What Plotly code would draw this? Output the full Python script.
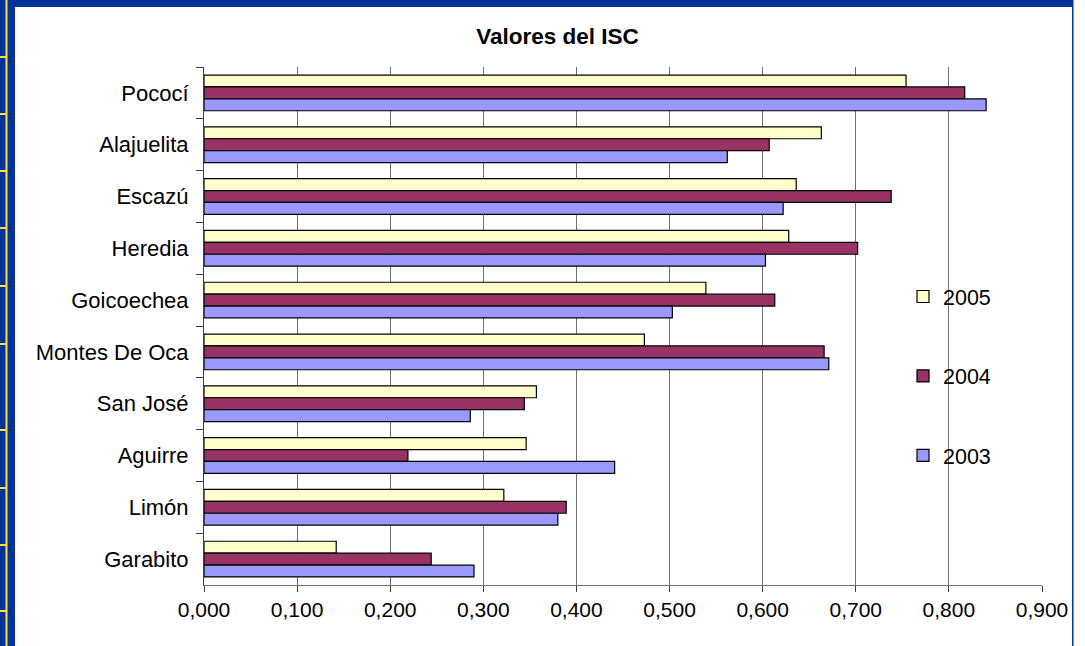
import plotly.graph_objects as go

categories = ["Pococí", "Alajuelita", "Escazú", "Heredia", "Goicoechea",
              "Montes De Oca", "San José", "Aguirre", "Limón", "Garabito"]
series_names = ["2005", "2004", "2003"]
values_2005 = [0.754, 0.663, 0.636, 0.628, 0.539, 0.473, 0.357, 0.346, 0.322, 0.142]
values_2004 = [0.817, 0.607, 0.738, 0.702, 0.613, 0.666, 0.344, 0.219, 0.389, 0.244]
values_2003 = [0.840, 0.562, 0.622, 0.603, 0.503, 0.671, 0.286, 0.441, 0.380, 0.290]
x_ticks = [0.0, 0.1, 0.2, 0.3, 0.4, 0.5, 0.6, 0.7, 0.8, 0.9]
colors = ["#FFFFCC", "#993366", "#9999FF"]

W, H = 1085, 646
L, R, T, B = 204, 43, 67, 61
PW, PH = W - L - R, H - T - B

def px(xp):
    return (xp - L) / PW

def py(yp):
    return (H - B - yp) / PH

FONT = "Arial, Liberation Sans, sans-serif"

fig = go.Figure()
for name, vals, col in zip(series_names, [values_2005, values_2004, values_2003], colors):
    fig.add_trace(go.Bar(
        y=categories, x=vals, name=name, orientation="h",
        marker=dict(color=col, line=dict(color="#000000", width=1.2)),
        legendgroup=name,
    ))

shapes = []
BLUE = "#003399"
YEL = "#FFE040"
shapes.append(dict(type="rect", xref="paper", yref="paper", x0=px(0), x1=px(15), y0=py(H), y1=py(0),
                   fillcolor=BLUE, line=dict(width=0), layer="above"))
shapes.append(dict(type="rect", xref="paper", yref="paper", x0=px(0), x1=px(1073), y0=py(7), y1=py(0),
                   fillcolor=BLUE, line=dict(width=0), layer="above"))
shapes.append(dict(type="rect", xref="paper", yref="paper", x0=px(1072), x1=px(1073.5), y0=py(H), y1=py(0),
                   fillcolor=BLUE, line=dict(width=0), layer="above"))
shapes.append(dict(type="rect", xref="paper", yref="paper", x0=px(5.5), x1=px(7.5), y0=py(H), y1=py(0),
                   fillcolor=YEL, line=dict(width=0), layer="above"))
for yy in [57, 114, 171, 228, 286, 344, 430, 488, 545, 611]:
    shapes.append(dict(type="rect", xref="paper", yref="paper", x0=px(0), x1=px(6), y0=py(yy + 1), y1=py(yy - 1),
                       fillcolor=YEL, line=dict(width=0), layer="above"))

fig.update_layout(
    width=W, height=H,
    margin=dict(l=L, r=R, t=T, b=B, pad=0),
    paper_bgcolor="#FFFFFF", plot_bgcolor="#FFFFFF",
    barmode="group", bargap=0.31, bargroupgap=0,
    separators=",.",
    font=dict(family=FONT, size=21.5, color="#000000"),
    title=dict(text="<b>Valores del ISC</b>", x=px(557.5), xref="paper", xanchor="center",
               y=1 - 36 / H, yref="container", yanchor="middle",
               font=dict(family=FONT, size=22.5, color="#000000")),
    xaxis=dict(range=[0, 0.9], tickvals=x_ticks, tickformat=".3f",
               showgrid=True, gridcolor="#707070", gridwidth=1,
               showline=True, linecolor="#707070", linewidth=1,
               ticks="outside", ticklen=6, tickcolor="#404040",
               zeroline=False, tickfont=dict(size=21, family=FONT)),
    yaxis=dict(autorange="reversed", type="category",
               showgrid=False, showline=True, linecolor="#404040", linewidth=1,
               ticks="outside", ticklen=7, tickcolor="#404040", tickson="boundaries",
               ticklabelstandoff=10, tickfont=dict(size=22, family=FONT)),
    legend=dict(x=px(903), y=py(276), xanchor="left", yanchor="top",
                font=dict(size=21.5, family=FONT), tracegroupgap=48.5,
                bgcolor="rgba(0,0,0,0)", traceorder="grouped"),
    shapes=shapes,
)

fig.write_html("out.html", config={"displayModeBar": False},
               post_script="document.body.style.margin='0px';document.body.style.overflow='hidden';")
